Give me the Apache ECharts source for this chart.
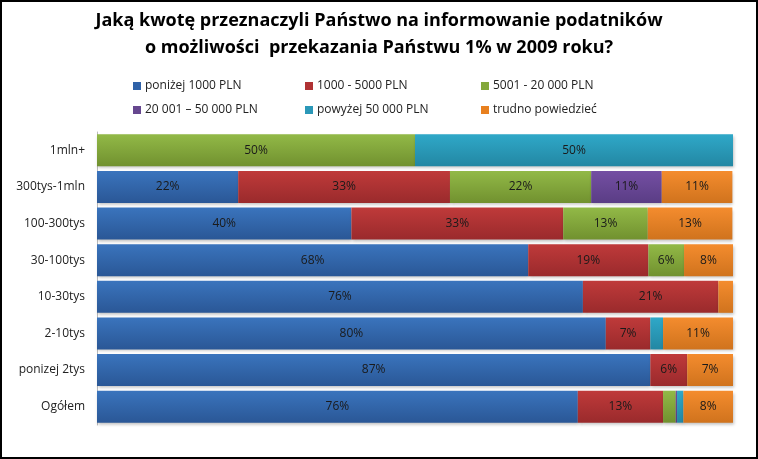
<!DOCTYPE html>
<html><head><meta charset="utf-8">
<script src="https://cdn.jsdelivr.net/npm/echarts@6/dist/echarts.min.js"></script>
<style>html,body{margin:0;padding:0;background:#fff}#c{width:758px;height:459px;box-sizing:border-box;border:2px solid #000}</style>
</head><body><div id="c"></div>
<script>
var categories = ['1mln+', '300tys-1mln', '100-300tys', '30-100tys', '10-30tys', '2-10tys', 'ponizej 2tys', 'Ogółem'];
var seriesNames = ['poniżej 1000 PLN', '1000 - 5000 PLN', '5001 - 20 000 PLN', '20 001 – 50 000 PLN', 'powyżej 50 000 PLN', 'trudno powiedzieć'];
var below1000 = [0, 22.2, 40, 67.8, 76.4, 80, 87, 75.6];
var from1000to5000 = [0, 33.3, 33.3, 18.9, 21.3, 7, 5.8, 13.4];
var from5001to20000 = [50, 22.2, 13.3, 5.6, 0, 0, 0, 2];
var from20001to50000 = [0, 11.1, 0, 0, 0, 0, 0, 0.2];
var above50000 = [50, 0, 0, 0, 0, 2, 0, 1];
var hardToSay = [0, 11.1, 13.3, 7.7, 2.3, 11, 7.2, 7.8];

var allData = [below1000, from1000to5000, from5001to20000, from20001to50000, above50000, hardToSay];
var colorsTop = ['#3a74bd', '#bf3a3a', '#92b947', '#744fa3', '#2fa8c8', '#f48c2e'];
var colorsBot = ['#2a5796', '#9a2a2c', '#71912f', '#5a3d85', '#2387a3', '#d0731d'];
var legendSolid = ['#2f62a8', '#b03234', '#84a83c', '#66478f', '#2b98b8', '#e8801f'];

var chart = echarts.init(document.getElementById('c'));
var series = allData.map(function (d, i) {
  return {
    name: seriesNames[i],
    type: 'bar',
    stack: 'total',
    barWidth: 32,
    data: d,
    itemStyle: {
      color: new echarts.graphic.LinearGradient(0, 0, 0, 1, [
        { offset: 0, color: colorsTop[i] },
        { offset: 1, color: colorsBot[i] }
      ]),
      shadowColor: 'rgba(0,0,0,0.25)',
      shadowBlur: 3,
      shadowOffsetX: 1,
      shadowOffsetY: 2
    },
    label: {
      show: true,
      position: 'inside',
      color: '#1a1a1a',
      fontSize: 12,
      fontFamily: 'Open Sans',
      formatter: function (p) { return p.value >= 5 ? Math.round(p.value) + '%' : ''; }
    },
    emphasis: { disabled: true }
  };
});

var legendPos = [[126, 73], [298, 73], [474, 73], [126, 97], [298, 97], [474, 97]];
var legends = seriesNames.map(function (n, i) {
  return {
    data: [{ name: n, itemStyle: { color: legendSolid[i] } }],
    left: legendPos[i][0], top: legendPos[i][1],
    icon: 'rect', itemWidth: 8, itemHeight: 8, itemGap: 4,
    selectedMode: false,
    textStyle: { fontSize: 12, color: '#222', fontFamily: 'Open Sans', padding: [0, 0, 0, -1] }
  };
});

chart.setOption({
  animation: false,
  title: {
    text: 'Jaką kwotę przeznaczyli Państwo na informowanie podatników\no możliwości  przekazania Państwu 1% w 2009 roku?',
    left: 'center', top: 0,
    textStyle: { fontSize: 18, fontWeight: 'bold', color: '#000', fontFamily: 'Open Sans', lineHeight: 27 }
  },
  legend: legends,
  grid: { left: 95, right: 23, top: 130, bottom: 32, containLabel: false },
  xAxis: { type: 'value', min: 0, max: 100, show: false },
  yAxis: {
    type: 'category', data: categories, inverse: true,
    axisLine: { show: true, lineStyle: { color: '#bbb' } },
    axisTick: { show: false },
    axisLabel: { fontSize: 12, color: '#222', fontFamily: 'Open Sans', margin: 12 }
  },
  series: series
});
</script></body></html>
